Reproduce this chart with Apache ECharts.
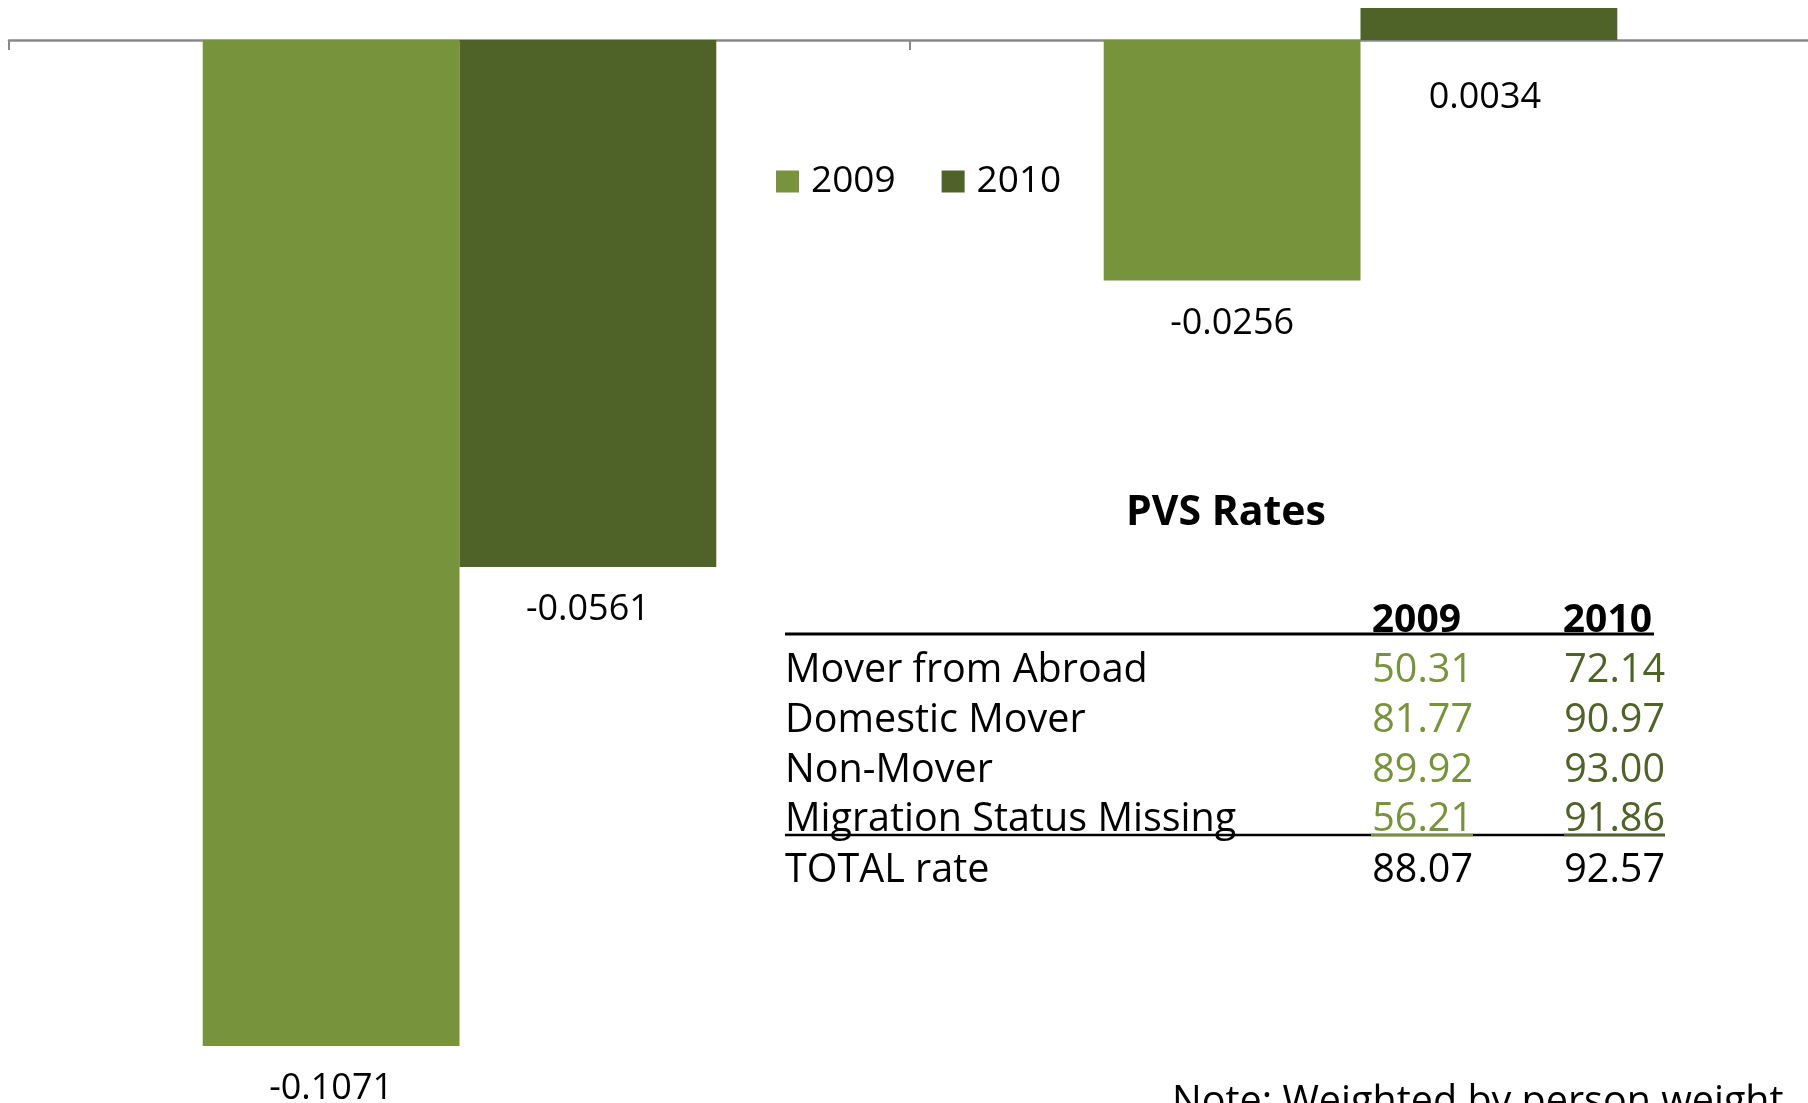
<!DOCTYPE html>
<html>
<head>
<meta charset="utf-8">
<script src="https://cdn.jsdelivr.net/npm/echarts@6/dist/echarts.min.js"></script>
<style>
  html, body { margin: 0; padding: 0; background: #fff; }
  #main { width: 1808px; height: 1103px; }
</style>
</head>
<body>
<div id="main"></div>
<script>
// chart data
var categories = ['Group A', 'Group B'];
var values2009 = [-0.1071, -0.0256];
var values2010 = [-0.0561, 0.0034];

// PVS rates table
var tableTitle = 'PVS Rates';
var tableYears = ['2009', '2010'];
var rowLabels = ['Mover from Abroad', 'Domestic Mover', 'Non-Mover', 'Migration Status Missing', 'TOTAL rate'];
var pvs2009 = ['50.31', '81.77', '89.92', '56.21', '88.07'];
var pvs2010 = ['72.14', '90.97', '93.00', '91.86', '92.57'];
var noteText = 'Note: Weighted by person weight';

var green2009 = '#77933C';
var green2010 = '#4F6228';
var font = '"Open Sans", sans-serif';

var chart = echarts.init(document.getElementById('main'));

// table layout
var rowY = [671, 721, 771, 820, 871];
var graphics = [
  { type: 'text', x: 1226, y: 513, style: { text: tableTitle, font: 'bold 41px ' + font, fill: '#000', align: 'center', verticalAlign: 'middle' } },
  { type: 'text', x: 1461, y: 621, style: { text: tableYears[0], font: 'bold 39px ' + font, fill: '#000', align: 'right', verticalAlign: 'middle' } },
  { type: 'text', x: 1652, y: 621, style: { text: tableYears[1], font: 'bold 39px ' + font, fill: '#000', align: 'right', verticalAlign: 'middle' } },
  { type: 'line', shape: { x1: 785, y1: 634, x2: 1654, y2: 634 }, style: { stroke: '#000', lineWidth: 3 } },
  { type: 'line', shape: { x1: 785, y1: 835, x2: 1665, y2: 835 }, style: { stroke: '#000', lineWidth: 2.5 } },
  { type: 'line', shape: { x1: 1371, y1: 835, x2: 1473, y2: 835 }, style: { stroke: green2009, lineWidth: 2.5 } },
  { type: 'line', shape: { x1: 1564, y1: 835, x2: 1665, y2: 835 }, style: { stroke: green2010, lineWidth: 2.5 } },
  { type: 'text', x: 1172, y: 1103, style: { text: noteText, font: '39.5px ' + font, fill: '#000', align: 'left', verticalAlign: 'middle' } }
];
for (var i = 0; i < rowLabels.length; i++) {
  var isTotal = i === rowLabels.length - 1;
  graphics.push({ type: 'text', x: 785, y: rowY[i], style: { text: rowLabels[i], font: '39.5px ' + font, fill: '#000', align: 'left', verticalAlign: 'middle' } });
  graphics.push({ type: 'text', x: 1473, y: rowY[i], style: { text: pvs2009[i], font: '39.5px ' + font, fill: isTotal ? '#000' : green2009, align: 'right', verticalAlign: 'middle' } });
  graphics.push({ type: 'text', x: 1665, y: rowY[i], style: { text: pvs2010[i], font: '39.5px ' + font, fill: isTotal ? '#000' : green2010, align: 'right', verticalAlign: 'middle' } });
}

var labelStyle = {
  show: true,
  position: 'bottom',
  distance: 23,
  color: '#000',
  fontFamily: font,
  fontSize: 36,
  lineHeight: 40,
  formatter: function (p) { return p.value.toFixed(4); }
};

// positive bar label sits under the axis like the others
var data2010 = values2010.map(function (v) {
  return v > 0 ? { value: v, label: { distance: 38, offset: [-4, 0] } } : v;
});

var option = {
  backgroundColor: '#fff',
  animation: false,
  textStyle: { fontFamily: font },
  legend: {
    data: ['2009', '2010'],
    left: 776,
    top: 163,
    padding: 0,
    icon: 'rect',
    itemWidth: 23,
    itemHeight: 22,
    itemGap: 46,
    textStyle: { fontSize: 37, color: '#000', fontFamily: font, padding: [0, 0, 0, 7] }
  },
  grid: {
    left: 9,
    top: 2.4,
    width: 1802,
    height: 1070.8,
    outerBoundsMode: 'none'
  },
  xAxis: {
    type: 'category',
    data: categories,
    axisLine: { onZero: true, lineStyle: { color: '#898989', width: 2.5 } },
    axisTick: { show: true, length: 10, lineStyle: { color: '#898989', width: 2 } },
    axisLabel: { show: false },
    splitLine: { show: false }
  },
  yAxis: {
    type: 'value',
    min: -0.11,
    max: 0.004,
    show: false,
    splitLine: { show: false }
  },
  graphic: graphics,
  series: [
    {
      name: '2009',
      type: 'bar',
      data: values2009,
      barGap: 0,
      barCategoryGap: '43%',
      itemStyle: { color: green2009 },
      label: labelStyle
    },
    {
      name: '2010',
      type: 'bar',
      data: data2010,
      itemStyle: { color: green2010 },
      label: labelStyle
    }
  ]
};

chart.setOption(option);
</script>
</body>
</html>
